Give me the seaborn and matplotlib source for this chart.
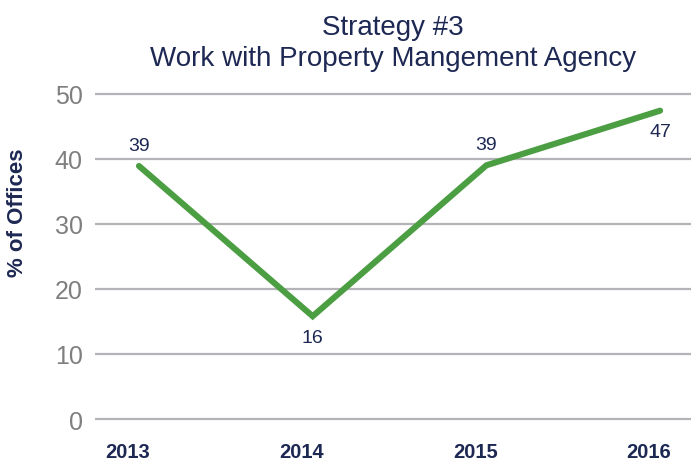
import matplotlib
matplotlib.use("Agg")
import matplotlib.pyplot as plt
import matplotlib.transforms as mtransforms
import pandas as pd
import seaborn as sns

# --- chart data ---
years = ["2013", "2014", "2015", "2016"]
pct_offices = [38.9, 15.8, 39.0, 47.4]
point_labels = ["39", "16", "39", "47"]
label_side = ["above", "below", "above", "below"]
y_ticks = [0, 10, 20, 30, 40, 50]

title_text = "Strategy #3\nWork with Property Mangement Agency"
y_title = "% of Offices"

NAVY = "#1d2853"
GREEN = "#4c9e43"
GRID = "#b3b3b8"
TICK_GRAY = "#7f7f7f"

sns.set_style("white")
plt.rcParams["font.family"] = ["Liberation Sans", "DejaVu Sans"]

df = pd.DataFrame({"year": years, "pct": pct_offices})

fig = plt.figure(figsize=(6.91, 4.64), dpi=100)
ax = fig.add_axes([0.1375, 0.0808, 0.8625, 0.729])

sns.lineplot(data=df, x="year", y="pct", sort=False, color=GREEN,
             linewidth=4.4, solid_capstyle="round", solid_joinstyle="miter", ax=ax, zorder=3)

for i, (v, lab, side) in enumerate(zip(pct_offices, point_labels, label_side)):
    dy = 15 if side == "above" else -15
    ax.annotate(lab, (i, v), xytext=(0, dy), textcoords="offset points",
                ha="center", va="center", fontsize=14, color=NAVY)

ax.set_ylim(-1, 51)
ax.set_xlim(-0.253, 3.178)
ax.set_yticks(y_ticks)
ax.yaxis.grid(True, color=GRID, linewidth=1.6)
ax.xaxis.grid(False)
for s in ax.spines.values():
    s.set_visible(False)

ax.tick_params(axis="y", length=0, pad=9, labelsize=18, labelcolor=TICK_GRAY)
ax.tick_params(axis="x", length=0, pad=12, labelsize=14.5, labelcolor=NAVY)
for t in ax.get_xticklabels():
    t.set_fontweight("bold")
    # category labels sit a bit left of the points in the original
    t.set_transform(t.get_transform() + mtransforms.ScaledTranslation(-0.11, 0, fig.dpi_scale_trans))

ax.set_xlabel("")
ax.set_ylabel(y_title, fontsize=16, fontweight="bold", color=NAVY)
ax.yaxis.set_label_coords(-0.112, 0.631)

ax.set_title(title_text, fontsize=20, color=NAVY, pad=16, linespacing=1.25)

fig.savefig("out.png", dpi=100)
